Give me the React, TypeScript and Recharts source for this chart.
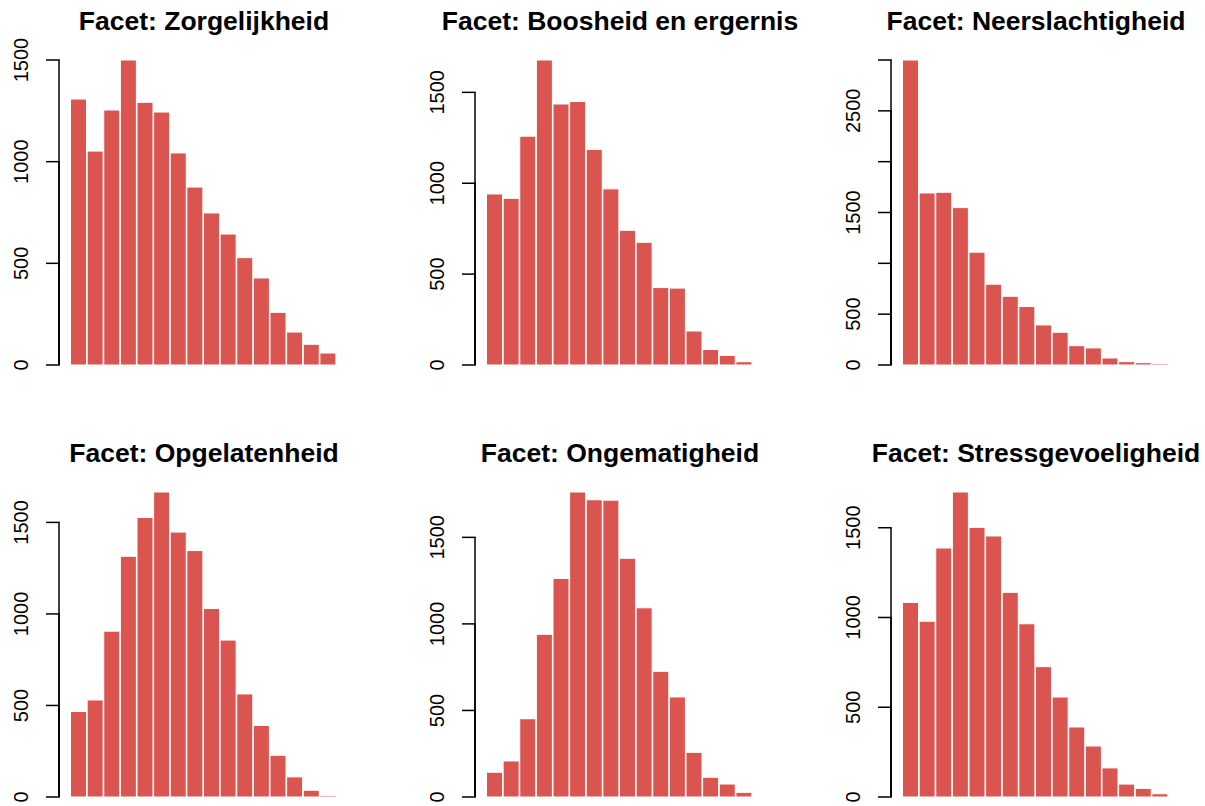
import { BarChart, Bar, XAxis, YAxis } from 'recharts'

// bins of each facet histogram (16 score classes)
const BINS = ['1', '2', '3', '4', '5', '6', '7', '8', '9', '10', '11', '12', '13', '14', '15', '16']

const ZORGELIJKHEID = [1308, 1052, 1254, 1500, 1292, 1244, 1043, 875, 748, 644, 528, 428, 259, 162, 102, 59]
const BOOSHEID = [941, 917, 1259, 1678, 1436, 1450, 1186, 969, 741, 675, 426, 423, 187, 85, 53, 18]
const NEERSLACHTIGHEID = [3000, 1692, 1699, 1548, 1110, 795, 676, 575, 394, 322, 190, 168, 69, 33, 23, 13]
const OPGELATENHEID = [467, 530, 906, 1315, 1527, 1666, 1447, 1346, 1030, 857, 563, 391, 228, 110, 37, 7]
const ONGEMATIGHEID = [143, 208, 452, 940, 1263, 1762, 1717, 1715, 1379, 1093, 726, 578, 258, 114, 75, 27]
const STRESSGEVOELIGHEID = [1084, 979, 1387, 1699, 1502, 1454, 1140, 965, 726, 557, 390, 284, 162, 72, 48, 18]

const TICKS_1500 = [0, 500, 1000, 1500]
const TICKS_3000 = [0, 500, 1000, 1500, 2000, 2500, 3000]
const LABELS_3000 = [0, 500, 1500, 2500]

const BAR_COLOR = '#da5450'
const FONT = '"Liberation Sans", Arial, Helvetica, sans-serif'

const PLOT_W = 266
const PLOT_H = 305
const AXIS_W = 70
const TOP_PAD = 30
const BOTTOM_PAD = 10
const CHART_W = AXIS_W + PLOT_W + 4
const CHART_H = TOP_PAD + PLOT_H + BOTTOM_PAD
const COL_X = [0, 416, 832]
const ROW_Y = [30, 462]

const facets = [
  { title: 'Facet: Zorgelijkheid', values: ZORGELIJKHEID, ticks: TICKS_1500, labels: TICKS_1500 },
  { title: 'Facet: Boosheid en ergernis', values: BOOSHEID, ticks: TICKS_1500, labels: TICKS_1500 },
  { title: 'Facet: Neerslachtigheid', values: NEERSLACHTIGHEID, ticks: TICKS_3000, labels: LABELS_3000 },
  { title: 'Facet: Opgelatenheid', values: OPGELATENHEID, ticks: TICKS_1500, labels: TICKS_1500 },
  { title: 'Facet: Ongematigheid', values: ONGEMATIGHEID, ticks: TICKS_1500, labels: TICKS_1500 },
  { title: 'Facet: Stressgevoeligheid', values: STRESSGEVOELIGHEID, ticks: TICKS_1500, labels: TICKS_1500 },
]

// R-style axis: line only spans first..last tick, sits a little left of the bars
const AxisTick = (props: any) => {
  const { x, y, payload, labels, baseline } = props
  const ax = x - 11
  const lx = ax - 38
  return (
    <g>
      <line x1={ax} y1={y} x2={ax} y2={baseline} stroke="#000" strokeWidth={1.5} />
      <line x1={ax - 13} y1={y} x2={ax + 0.75} y2={y} stroke="#000" strokeWidth={1.5} />
      {labels.includes(payload.value) && (
        <text
          x={lx}
          y={y}
          transform={`rotate(-90 ${lx} ${y})`}
          textAnchor="middle"
          dominantBaseline="central"
          fill="#000"
          fontSize={20}
          fontFamily={FONT}
        >
          {payload.value}
        </text>
      )}
    </g>
  )
}

function Facet({ title, values, ticks, labels, left, top }: any) {
  const data = BINS.map((bin, i) => ({ bin, count: values[i] }))
  const center = left + AXIS_W + PLOT_W / 2 + 1
  return (
    <>
      <div
        style={{
          position: 'absolute',
          left: center - 250,
          width: 500,
          top: top - 24,
          lineHeight: '30px',
          textAlign: 'center',
          fontFamily: FONT,
          fontWeight: 700,
          fontSize: 26.5,
          color: '#000',
          whiteSpace: 'nowrap',
        }}
      >
        {title}
      </div>
      <div style={{ position: 'absolute', left, top }}>
        <BarChart
          width={CHART_W}
          height={CHART_H}
          data={data}
          margin={{ top: TOP_PAD, right: 4, bottom: BOTTOM_PAD, left: 0 }}
          barCategoryGap={0.5}
        >
          <XAxis dataKey="bin" hide />
          <YAxis
            width={AXIS_W}
            domain={[0, 'dataMax']}
            ticks={ticks}
            interval={0}
            axisLine={false}
            tickLine={false}
            tickSize={0}
            tickMargin={0}
            tick={<AxisTick labels={labels} baseline={TOP_PAD + PLOT_H} />}
          />
          <Bar dataKey="count" fill={BAR_COLOR} stroke="#fff" strokeWidth={1} isAnimationActive={false} />
        </BarChart>
      </div>
    </>
  )
}

export default function App() {
  return (
    <div style={{ position: 'absolute', left: 0, top: 0, width: 1205, height: 806, background: '#fff' }}>
      {facets.map((f, i) => (
        <Facet key={f.title} {...f} left={COL_X[i % 3]} top={ROW_Y[Math.floor(i / 3)]} />
      ))}
    </div>
  )
}
